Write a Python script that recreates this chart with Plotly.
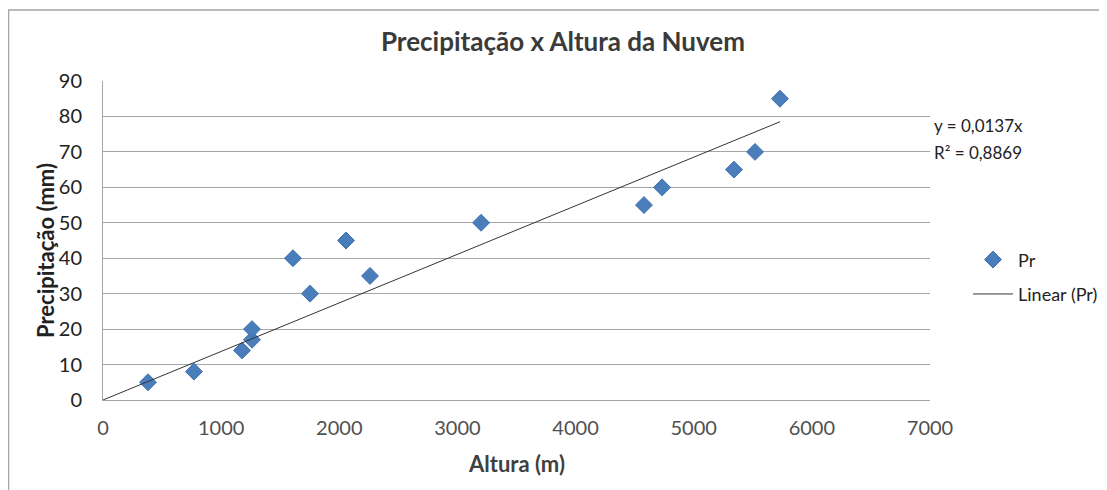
import plotly.graph_objects as go

altura = [381, 770, 1177, 1261, 1261, 1608, 1752, 2057, 2260, 3200, 4579, 4732, 5341, 5519, 5730]
precip = [5, 8, 14, 17, 20, 40, 30, 45, 35, 50, 55, 60, 65, 70, 85]
slope = 0.0137
x_ticks = [0, 1000, 2000, 3000, 4000, 5000, 6000, 7000]
y_ticks = [0, 10, 20, 30, 40, 50, 60, 70, 80, 90]

FONT = "Lato, 'Open Sans', sans-serif"

trend_x = [0, max(altura)]
trend_y = [slope * v for v in trend_x]

fig = go.Figure()
fig.add_trace(go.Scatter(
    x=altura, y=precip, mode="markers", name="Pr", legendgroup="a",
    marker=dict(symbol="diamond", size=13, color="#4a7ebb",
                line=dict(width=1, color="#3e6fae")),
))
fig.add_trace(go.Scatter(
    x=trend_x, y=trend_y, mode="lines", name="Linear (Pr)", legendgroup="b",
    line=dict(color="#333333", width=1),
))

PW, PH = 827, 319

fig.update_layout(
    width=1099, height=482,
    margin=dict(l=95, r=177, t=73, b=90, autoexpand=False),
    paper_bgcolor="white", plot_bgcolor="white",
    font=dict(family=FONT, color="#222222", size=18),
    title=dict(text="<b>Precipitação x Altura da Nuvem</b>", x=0.505, xanchor="center",
               y=0.929, yanchor="middle", font=dict(size=26, color="#3a3a3a")),
    xaxis=dict(range=[0, 7000], tickvals=x_ticks, showgrid=False, zeroline=False,
               showline=True, linecolor="#a6a6a6", linewidth=1,
               ticks="", tickfont=dict(size=20, color="#505050"), ticklabelstandoff=10),
    yaxis=dict(range=[0, 90], tickvals=y_ticks, showgrid=True, gridcolor="#a6a6a6", gridwidth=1,
               zeroline=False, showline=True, linecolor="#a6a6a6", linewidth=1,
               ticks="", tickfont=dict(size=20, color="#222222"), ticklabelstandoff=16),
    legend=dict(x=1.046, y=0.386, xanchor="left", yanchor="middle",
                font=dict(size=18, color="#222222"), tracegroupgap=8,
                itemwidth=40, bgcolor="rgba(0,0,0,0)"),
    showlegend=True,
)

# axis titles
fig.add_annotation(xref="paper", yref="paper", x=(516 - 103) / PW, y=-63 / PH,
                   xanchor="center", yanchor="middle", showarrow=False,
                   text="<b>Altura (m)</b>", font=dict(size=22, color="#404040"))
fig.add_annotation(xref="paper", yref="paper", x=(45 - 103) / PW, y=(400 - 251) / PH,
                   xanchor="center", yanchor="middle", showarrow=False, textangle=-90,
                   text="<b>Precipitação (mm)</b>", font=dict(size=22, color="#222222"))

# trendline equation
fig.add_annotation(xref="paper", yref="paper", x=(932 - 103) / PW, y=(400 - 125) / PH,
                   xanchor="left", yanchor="middle", showarrow=False,
                   text="y = 0,0137x", font=dict(size=17, color="#222222"))
fig.add_annotation(xref="paper", yref="paper", x=(932 - 103) / PW, y=(400 - 152) / PH,
                   xanchor="left", yanchor="middle", showarrow=False,
                   text="R² = 0,8869", font=dict(size=17, color="#222222"))

# chart area border
fig.add_shape(type="rect", xref="paper", yref="paper",
              x0=-94.5 / PW, x1=(1099 - 95 + 5) / PW, y0=-200 / PH, y1=(392 - 2) / PH,
              line=dict(color="#a6a6a6", width=1.5), fillcolor="rgba(0,0,0,0)", layer="below")

fig.write_html("out.html")
